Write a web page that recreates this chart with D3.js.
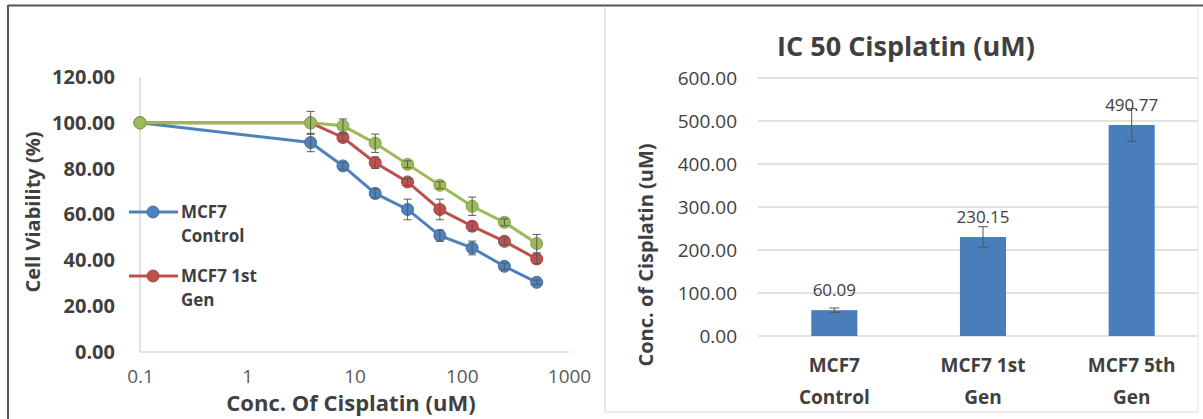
<!DOCTYPE html>
<html>
<head>
<meta charset="utf-8">
<script src="https://cdn.jsdelivr.net/npm/d3@7"></script>
<style>
  body { margin: 0; background: #fff; }
  svg { display: block; font-family: "Open Sans", "Noto Sans", sans-serif; }
</style>
</head>
<body>
<svg id="chart" width="1203" height="419"></svg>
<script>
// dose response (left panel)
const concs = [0.1, 3.9, 7.8, 15.6, 31.25, 62.5, 125, 250, 500];
const control = [100, 91.4, 81.2, 69.2, 62.2, 50.8, 45.4, 37.4, 30.4];
const controlErr = [0, 4, 1.5, 2, 4.5, 2.5, 3, 1.5, 1];
const gen1 = [100, 100, 93.6, 82.6, 74.2, 62.2, 54.9, 48.3, 40.6];
const gen1Err = [0, 0, 1.5, 2.5, 1.5, 4.5, 2, 1.5, 2];
const gen5 = [100, 100, 98.7, 91.1, 81.9, 72.8, 63.6, 56.6, 47.3];
const gen5Err = [0, 5, 3, 4, 1.5, 1.5, 4, 1.5, 4];
const xTicks = [0.1, 1, 10, 100, 1000];
const yTicksLeft = [0, 20, 40, 60, 80, 100, 120];

// IC50 (right panel)
const groups = [["MCF7", "Control"], ["MCF7 1st", "Gen"], ["MCF7 5th", "Gen"]];
const ic50 = [60.09, 230.15, 490.77];
const ic50Err = [5, 24, 38];
const yTicksRight = [0, 100, 200, 300, 400, 500, 600];

const blue = "#4f81bd", red = "#c0504d", green = "#9bbb59";
const svg = d3.select("#chart");

// frames
svg.append("line").attr("x1", 8).attr("x2", 1203).attr("y1", 5.5).attr("y2", 5.5)
  .attr("stroke", "#555").attr("stroke-width", 2);
svg.append("line").attr("x1", 8).attr("x2", 8).attr("y1", 5).attr("y2", 419)
  .attr("stroke", "#555").attr("stroke-width", 2);
svg.append("line").attr("x1", 605).attr("x2", 605).attr("y1", 6).attr("y2", 412)
  .attr("stroke", "#d0d0d0");
svg.append("line").attr("x1", 605).attr("x2", 1198).attr("y1", 412).attr("y2", 412)
  .attr("stroke", "#d8d8d8");
svg.append("line").attr("x1", 1198).attr("x2", 1198).attr("y1", 6).attr("y2", 412)
  .attr("stroke", "#e4e4e4");

// ---------- left chart ----------
const x = d3.scaleLog().domain([0.1, 1000]).range([140, 569]);
const yL = d3.scaleLinear().domain([0, 120]).range([352, 77]);

svg.append("line").attr("x1", x(0.1)).attr("x2", x(0.1)).attr("y1", yL(120)).attr("y2", yL(0))
  .attr("stroke", "#d9d9d9").attr("stroke-width", 1.5);
svg.append("line").attr("x1", x(0.1)).attr("x2", x(1000)).attr("y1", yL(0)).attr("y2", yL(0))
  .attr("stroke", "#d9d9d9").attr("stroke-width", 1.5);

const yAxisL = svg.append("g").attr("transform", "translate(118,0)")
  .call(d3.axisLeft(yL).tickValues(yTicksLeft).tickFormat(d3.format(".2f")).tickSize(0));
yAxisL.select(".domain").remove();
yAxisL.selectAll("text").attr("font-size", 20).attr("font-weight", "bold")
  .attr("fill", "#404040").attr("font-family", "Open Sans");

const xAxisL = svg.append("g").attr("transform", "translate(0,366)")
  .call(d3.axisBottom(x).tickValues(xTicks).tickFormat(d => d3.format("")(d)).tickSize(0));
xAxisL.select(".domain").remove();
xAxisL.selectAll("text").attr("font-size", 19).attr("fill", "#595959")
  .attr("font-family", "Open Sans");

svg.append("text").attr("x", 351).attr("y", 411).attr("text-anchor", "middle")
  .attr("font-size", 22).attr("font-weight", "bold").attr("fill", "#404040")
  .text("Conc. Of Cisplatin (uM)");
svg.append("text").attr("transform", "translate(40,212) rotate(-90)").attr("text-anchor", "middle")
  .attr("font-size", 20).attr("font-weight", "bold").attr("fill", "#404040")
  .text("Cell Viability (%)");

const series = [
  { vals: control, err: controlErr, color: blue },
  { vals: gen1, err: gen1Err, color: red },
  { vals: gen5, err: gen5Err, color: green }
];
const line = d3.line().x((d, i) => x(concs[i])).y(d => yL(d));

series.forEach(s => {
  const g = svg.append("g");
  g.append("path").datum(s.vals).attr("d", line).attr("fill", "none")
    .attr("stroke", s.color).attr("stroke-width", 3);
  g.selectAll("circle").data(s.vals).enter().append("circle")
    .attr("cx", (d, i) => x(concs[i])).attr("cy", d => yL(d)).attr("r", 6)
    .attr("fill", s.color).attr("stroke", d3.color(s.color).darker(0.4)).attr("stroke-width", 1);
});

// error bars drawn on top of all series
series.forEach(s => {
  s.vals.forEach((v, i) => {
    const e = s.err[i];
    if (!e) return;
    const cx = x(concs[i]);
    const g = svg.append("g").attr("stroke", "#5a5a5a").attr("stroke-width", 1);
    g.append("line").attr("x1", cx).attr("x2", cx).attr("y1", yL(v + e)).attr("y2", yL(v - e));
    [v + e, v - e].forEach(t => g.append("line").attr("x1", cx - 4).attr("x2", cx + 4)
      .attr("y1", yL(t)).attr("y2", yL(t)));
  });
});

// legend
const legend = [
  { color: blue, lines: ["MCF7", "Control"], y: 212 },
  { color: red, lines: ["MCF7 1st", "Gen"], y: 276 }
];
legend.forEach(l => {
  svg.append("line").attr("x1", 129).attr("x2", 178).attr("y1", l.y).attr("y2", l.y)
    .attr("stroke", l.color).attr("stroke-width", 3);
  svg.append("circle").attr("cx", 153).attr("cy", l.y).attr("r", 6)
    .attr("fill", l.color).attr("stroke", d3.color(l.color).darker(0.4));
  l.lines.forEach((t, k) => svg.append("text").attr("x", 181).attr("y", l.y + 6 + k * 24)
    .attr("font-size", 17).attr("font-weight", "bold").attr("fill", "#404040").text(t));
});

// ---------- right chart ----------
const xb = d3.scaleBand().domain(d3.range(groups.length)).range([760, 1206]).paddingInner(0.69).paddingOuter(0.345);
const yR = d3.scaleLinear().domain([0, 600]).range([336, 78]);

svg.append("g").selectAll("line").data(yTicksRight).enter().append("line")
  .attr("x1", 758).attr("x2", 1198).attr("y1", d => yR(d)).attr("y2", d => yR(d))
  .attr("stroke", "#d9d9d9").attr("stroke-width", 1.3);

const yAxisR = svg.append("g").attr("transform", "translate(740,0)")
  .call(d3.axisLeft(yR).tickValues(yTicksRight).tickFormat(d3.format(".2f")).tickSize(0));
yAxisR.select(".domain").remove();
yAxisR.selectAll("text").attr("font-size", 19).attr("fill", "#404040")
  .attr("font-family", "Open Sans");

svg.append("g").selectAll("rect").data(ic50).enter().append("rect")
  .attr("x", (d, i) => xb(i)).attr("width", xb.bandwidth())
  .attr("y", d => yR(d)).attr("height", d => yR(0) - yR(d)).attr("fill", "#4a7ebb");

ic50.forEach((v, i) => {
  const cx = xb(i) + xb.bandwidth() / 2, e = ic50Err[i];
  const g = svg.append("g").attr("stroke", "#555").attr("stroke-width", 1);
  g.append("line").attr("x1", cx).attr("x2", cx).attr("y1", yR(v + e)).attr("y2", yR(v - e));
  [v + e, v - e].forEach(t => g.append("line").attr("x1", cx - 5).attr("x2", cx + 5)
    .attr("y1", yR(t)).attr("y2", yR(t)));
  svg.append("text").attr("x", cx).attr("y", yR(v) - 14).attr("text-anchor", "middle")
    .attr("font-size", 17).attr("fill", "#404040").text(d3.format(".2f")(v));
  groups[i].forEach((t, k) => svg.append("text").attr("x", cx).attr("y", 372 + k * 32)
    .attr("text-anchor", "middle").attr("font-size", 19).attr("font-weight", "bold")
    .attr("fill", "#404040").text(t));
});

svg.append("text").attr("x", 906).attr("y", 56).attr("text-anchor", "middle")
  .attr("font-size", 27).attr("font-weight", "bold").attr("fill", "#404040")
  .text("IC 50 Cisplatin (uM)");
svg.append("text").attr("transform", "translate(653,255) rotate(-90)").attr("text-anchor", "middle")
  .attr("font-size", 20).attr("font-weight", "bold").attr("fill", "#404040")
  .text("Conc. of Cisplatin (uM)");
</script>
</body>
</html>
